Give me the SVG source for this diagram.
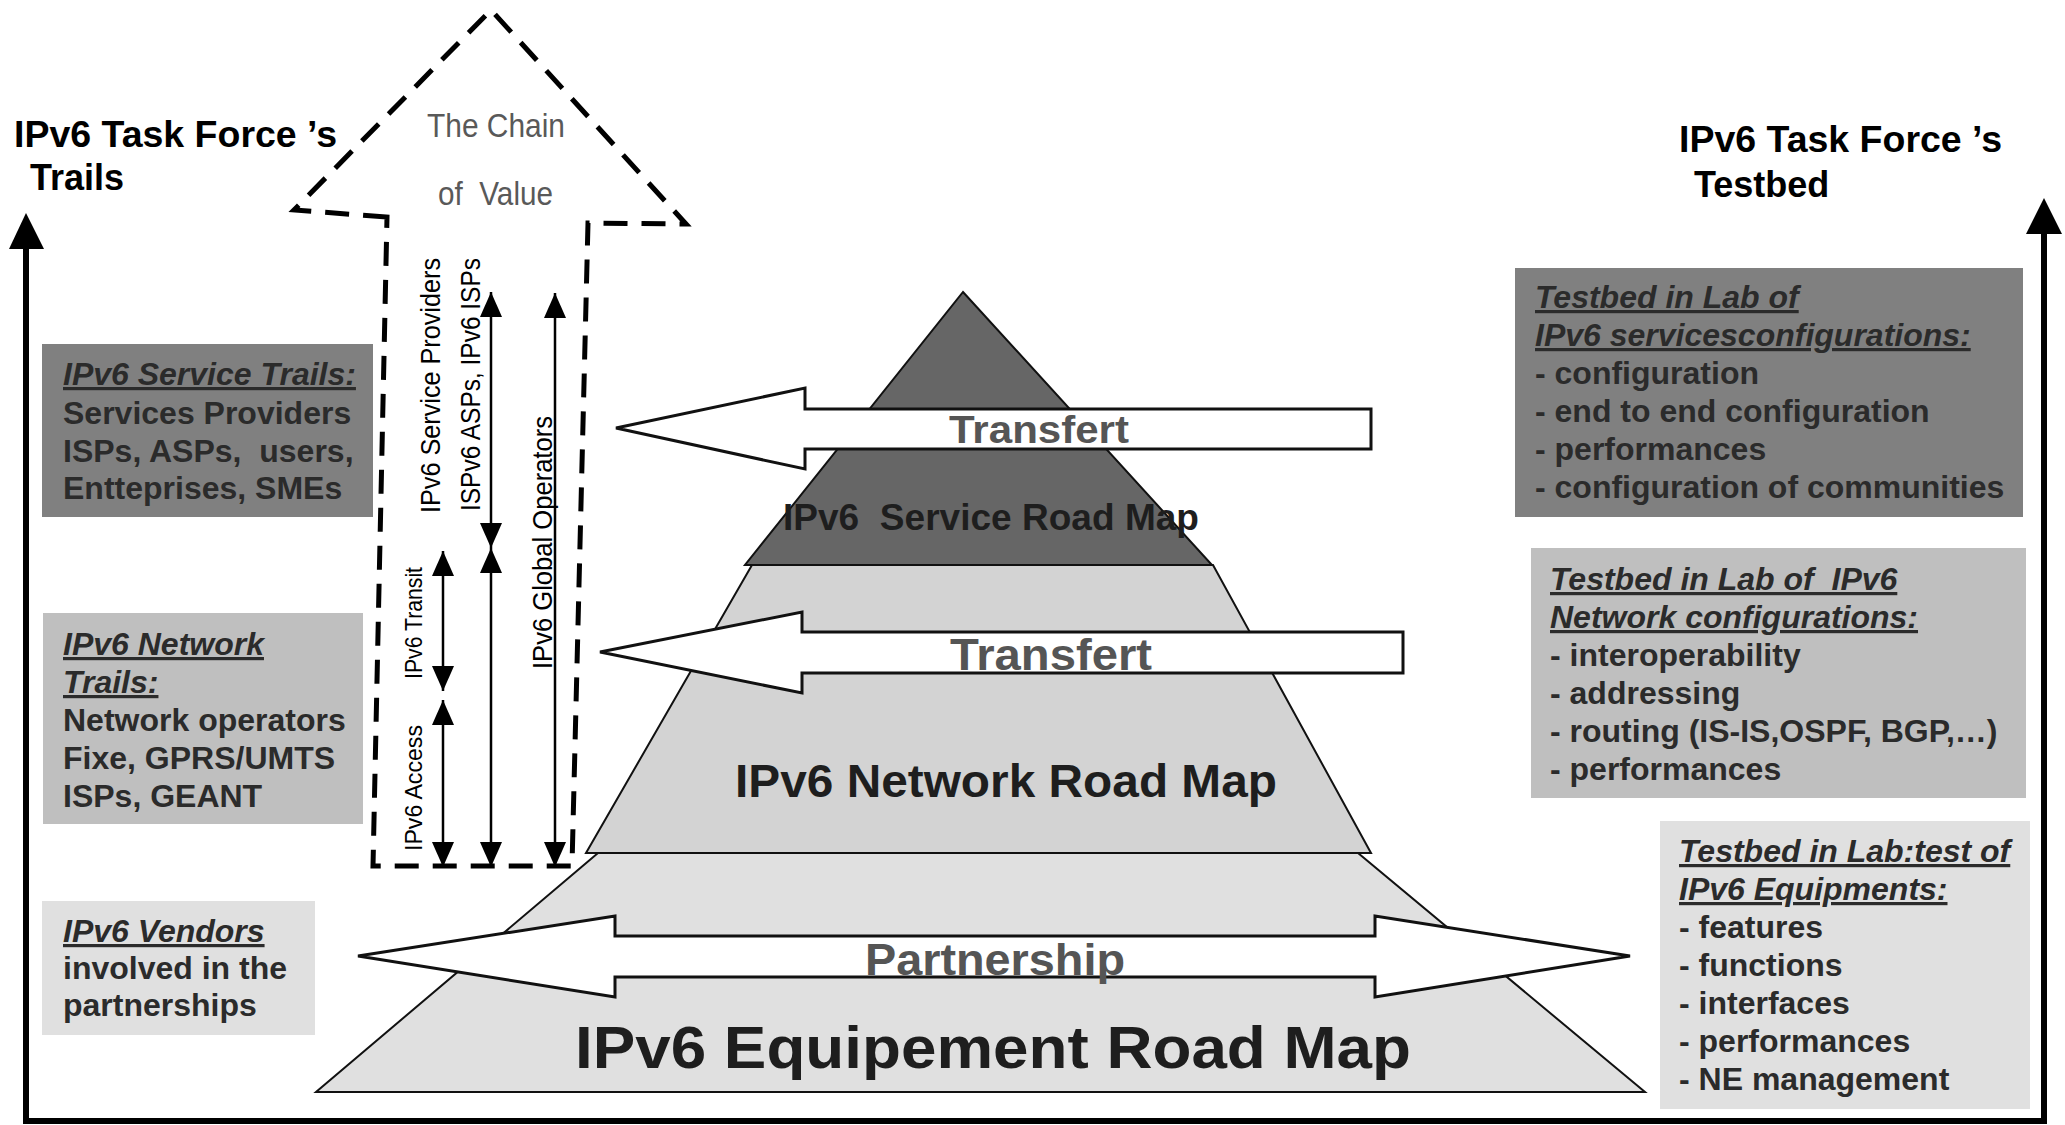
<svg xmlns="http://www.w3.org/2000/svg" width="2065" height="1125" viewBox="0 0 2065 1125">
<style>
text{white-space:pre}
.title{font-family:"Liberation Sans",Arial,sans-serif;font-weight:bold;font-size:36px;fill:#000}
.box{font-family:"Liberation Sans",Arial,sans-serif;font-weight:bold;font-size:32px;fill:#2b2b2b}
.hd{font-style:italic;text-decoration:underline}
.vl{font-family:"Liberation Sans Narrow","Liberation Sans",Arial,sans-serif;font-size:28px;fill:#000}
.vs{font-family:"Liberation Sans Narrow","Liberation Sans",Arial,sans-serif;font-size:24px;fill:#000}
.chain{font-family:"Liberation Sans Narrow","Liberation Sans",Arial,sans-serif;font-size:33px;fill:#595959}
.pl{font-family:"Liberation Sans",Arial,sans-serif;font-weight:bold;fill:#1e1e1e}
.tr{font-family:"Liberation Sans",Arial,sans-serif;font-weight:bold;fill:#555}
.fat{fill:#fff;stroke:#111;stroke-width:3;stroke-linejoin:miter}
.pyr{stroke:#111;stroke-width:2}
.va{stroke:#000;stroke-width:2.5;fill:none;marker-start:url(#ah);marker-end:url(#ah)}
</style>
<defs>
<marker id="ah" viewBox="0 0 25 22" refX="25" refY="11" markerWidth="25" markerHeight="22" markerUnits="userSpaceOnUse" orient="auto-start-reverse">
<path d="M0,0 L25,11 L0,22 Z" fill="#000"/>
</marker>
</defs>
<rect width="2065" height="1125" fill="#fff"/>

<g id="frame">
<path d="M26,240 L26,1121 L2044,1121 L2044,225" fill="none" stroke="#000" stroke-width="6"/>
<polygon points="26,213 9,249 44,249" fill="#000"/>
<polygon points="2044,198 2026,234 2062,234" fill="#000"/>
</g>

<g id="titles">
<text class="title" x="14" y="147" textLength="323" lengthAdjust="spacingAndGlyphs">IPv6 Task Force ’s</text>
<text class="title" x="30" y="190">Trails</text>
<text class="title" x="1679" y="152" textLength="323" lengthAdjust="spacingAndGlyphs">IPv6 Task Force ’s</text>
<text class="title" x="1694" y="197">Testbed</text>
</g>

<g id="pyramid">
<polygon id="equipment" class="pyr" points="598,853 1358,853 1645,1092 316,1092" fill="#e0e0e0"/>
<polygon id="network" class="pyr" points="752,565 1213,565 1371,853 586,853" fill="#d3d3d3"/>
<polygon id="service" class="pyr" points="963,292 1212,565 745,565" fill="#666"/>
</g>

<g id="chain">
<path d="M387,217 L294,210 L491,10 L686,224 L588,223 L572,866 L373,866 Z" fill="none" stroke="#000" stroke-width="5" stroke-dasharray="24 14"/>
<text class="chain" x="427" y="137" textLength="138" lengthAdjust="spacingAndGlyphs">The Chain</text>
<text class="chain" x="438" y="205" textLength="115" lengthAdjust="spacingAndGlyphs">of  Value</text>
</g>

<g id="connectors">
<line class="va" x1="491" y1="292" x2="491" y2="548"/>
<line class="va" x1="491" y1="548" x2="491" y2="867"/>
<line class="va" x1="555" y1="293" x2="555" y2="867"/>
<line class="va" x1="443" y1="551" x2="443" y2="691"/>
<line class="va" x1="443" y1="700" x2="443" y2="867"/>
<path id="transfert1" class="fat" d="M616,428 L805,388 L805,409 L1371,409 L1371,449 L805,449 L805,469 Z"/>
<path id="transfert2" class="fat" d="M600,652 L802,612 L802,632 L1403,632 L1403,673 L802,673 L802,693 Z"/>
<path id="partnership" class="fat" d="M358,956 L615,916 L615,936 L1375,936 L1375,916 L1630,956 L1375,997 L1375,977 L615,977 L615,997 Z"/>
</g>

<g id="vlabels">
<text class="vl" transform="translate(440,513) rotate(-90)" textLength="255" lengthAdjust="spacingAndGlyphs">IPv6 Service Providers</text>
<text class="vl" transform="translate(480,511) rotate(-90)" textLength="253" lengthAdjust="spacingAndGlyphs">ISPv6 ASPs, IPv6 ISPs</text>
<text class="vl" transform="translate(552,669) rotate(-90)" textLength="253" lengthAdjust="spacingAndGlyphs">IPv6 Global Operators</text>
<text class="vs" transform="translate(422,679) rotate(-90)" textLength="112" lengthAdjust="spacingAndGlyphs">IPv6 Transit</text>
<text class="vs" transform="translate(422,851) rotate(-90)" textLength="126" lengthAdjust="spacingAndGlyphs">IPv6 Access</text>
</g>

<g id="pyramid-labels">
<text class="tr" x="949" y="443" font-size="38" textLength="180" lengthAdjust="spacingAndGlyphs">Transfert</text>
<text class="pl" x="783" y="530" font-size="37" textLength="416" lengthAdjust="spacingAndGlyphs">IPv6  Service Road Map</text>
<text class="tr" x="950" y="670" font-size="44" textLength="202" lengthAdjust="spacingAndGlyphs">Transfert</text>
<text class="pl" x="735" y="797" font-size="46" textLength="542" lengthAdjust="spacingAndGlyphs">IPv6 Network Road Map</text>
<text class="tr" x="865" y="975" font-size="44" textLength="260" lengthAdjust="spacingAndGlyphs">Partnership</text>
<text class="pl" x="575" y="1068" font-size="60" textLength="836" lengthAdjust="spacingAndGlyphs">IPv6 Equipement Road Map</text>
</g>

<g id="service-trails">
<rect x="42" y="344" width="331" height="173" fill="#808080"/>
<text class="box hd" x="63" y="385">IPv6 Service Trails:</text>
<text class="box" x="63" y="424">Services Providers</text>
<text class="box" x="63" y="462">ISPs, ASPs,  users,</text>
<text class="box" x="63" y="499">Entteprises, SMEs</text>
</g>

<g id="network-trails">
<rect x="43" y="613" width="320" height="211" fill="#bfbfbf"/>
<text class="box hd" x="63" y="655">IPv6 Network</text>
<text class="box hd" x="63" y="693">Trails:</text>
<text class="box" x="63" y="731">Network operators</text>
<text class="box" x="63" y="769">Fixe, GPRS/UMTS</text>
<text class="box" x="63" y="807">ISPs, GEANT</text>
</g>

<g id="vendors">
<rect x="42" y="901" width="273" height="134" fill="#e0e0e0"/>
<text class="box hd" x="63" y="942">IPv6 Vendors</text>
<text class="box" x="63" y="979">involved in the</text>
<text class="box" x="63" y="1016">partnerships</text>
</g>

<g id="testbed-services">
<rect x="1515" y="268" width="508" height="249" fill="#808080"/>
<text class="box hd" x="1535" y="308">Testbed in Lab of</text>
<text class="box hd" x="1535" y="346">IPv6 servicesconfigurations:</text>
<text class="box" x="1535" y="384">- configuration</text>
<text class="box" x="1535" y="422">- end to end configuration</text>
<text class="box" x="1535" y="460">- performances</text>
<text class="box" x="1535" y="498">- configuration of communities</text>
</g>

<g id="testbed-network">
<rect x="1531" y="548" width="495" height="250" fill="#bfbfbf"/>
<text class="box hd" x="1550" y="590">Testbed in Lab of  IPv6</text>
<text class="box hd" x="1550" y="628">Network configurations:</text>
<text class="box" x="1550" y="666">- interoperability</text>
<text class="box" x="1550" y="704">- addressing</text>
<text class="box" x="1550" y="742">- routing (IS-IS,OSPF, BGP,…)</text>
<text class="box" x="1550" y="780">- performances</text>
</g>

<g id="testbed-equipment">
<rect x="1660" y="821" width="370" height="288" fill="#e0e0e0"/>
<text class="box hd" x="1679" y="862">Testbed in Lab:test of</text>
<text class="box hd" x="1679" y="900">IPv6 Equipments:</text>
<text class="box" x="1679" y="938">- features</text>
<text class="box" x="1679" y="976">- functions</text>
<text class="box" x="1679" y="1014">- interfaces</text>
<text class="box" x="1679" y="1052">- performances</text>
<text class="box" x="1679" y="1090">- NE management</text>
</g>
</svg>
